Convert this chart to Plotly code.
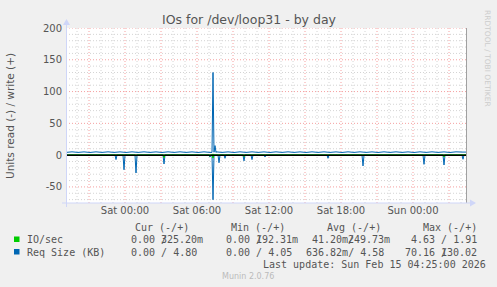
import pandas as pd
import plotly.graph_objects as go

# ---------------- data ----------------
t_start = "2026-02-13 19:05"
t_end = "2026-02-15 04:25"

# Req Size (KB), write (+) : half-hourly baseline values
write_base_vals = [4.3, 5.2, 4.3, 5.1, 4.2, 5.2, 4.3, 5.2, 4.3, 5.1,
                   4.2, 5.2, 4.3, 5.2, 4.3, 5.1, 4.2, 5.2, 4.3, 5.2,
                   4.3, 5.1, 4.2, 5.2, 4.3, 5.2, 4.3, 5.1, 4.2, 5.2,
                   4.3, 5.2, 4.3, 5.1, 4.2, 5.2, 4.3, 5.2, 4.3, 5.1,
                   4.2, 5.2, 4.3, 5.2, 4.3, 5.1, 4.2, 5.2, 4.3, 5.2,
                   4.3, 5.1, 4.2, 5.2, 4.3, 5.2, 4.3, 5.1, 4.2, 5.2,
                   4.3, 5.2, 4.3, 5.1, 4.2, 5.2, 4.8]
# Req Size (KB), write (+) : spike around Sat 07:20
write_spike_times = ["2026-02-14 07:15", "2026-02-14 07:20", "2026-02-14 07:25",
                     "2026-02-14 07:30", "2026-02-14 07:35"]
write_spike_vals = [4.4, 130.02, 4.6, 15.0, 4.4]

# Req Size (KB), read (-) : spikes (time, KB)
read_spike_times = ["2026-02-13 23:15", "2026-02-13 23:55", "2026-02-14 00:55",
                    "2026-02-14 03:15", "2026-02-14 07:05", "2026-02-14 07:20",
                    "2026-02-14 07:50", "2026-02-14 08:20", "2026-02-14 09:55",
                    "2026-02-14 10:35", "2026-02-14 11:40", "2026-02-14 16:55",
                    "2026-02-14 19:50", "2026-02-15 00:55", "2026-02-15 02:35",
                    "2026-02-15 04:10"]
read_spike_vals = [7, 23, 28, 14, 3, 70.16, 12, 5, 9, 7, 3, 5, 17, 14.5, 15.5, 6.5]

# IO/sec, read (-) spikes
io_read_times = ["2026-02-14 00:55", "2026-02-14 03:15", "2026-02-14 07:05",
                 "2026-02-14 07:20", "2026-02-14 09:55", "2026-02-15 02:35"]
io_read_vals = [1.5, 4.0, 2.0, 4.63, 2.5, 3.0]
# IO/sec, write (+)
io_write_times = [t_start, "2026-02-14 07:15", "2026-02-14 07:20",
                  "2026-02-14 07:25", t_end]
io_write_vals = [0.24, 0.24, 1.91, 0.24, 0.33]

# y ticks
y_ticks = [-50, 0, 50, 100, 150, 200]

# legend table
hdrs = ["Cur (-/+)", "Min (-/+)", "Avg (-/+)", "Max (-/+)"]
io_stats = [("0.00", "325.20m"), ("0.00", "192.31m"), ("41.20m", "249.73m"), ("4.63", "1.91")]
kb_stats = [("0.00", "4.80"), ("0.00", "4.05"), ("636.82m", "4.58"), ("70.16", "130.02")]

GREEN = "#00CC00"
BLUE = "#0066B3"
FONT = "#555555"

# ---------------- build series ----------------
five = pd.Timedelta(minutes=5)
base_t = pd.date_range(t_start, periods=len(write_base_vals), freq="30min")
w = pd.Series(write_base_vals, index=base_t)
w = pd.concat([w, pd.Series(write_spike_vals, index=pd.to_datetime(write_spike_times))])
w.loc[pd.Timestamp(t_end)] = 4.8
w = w.sort_index()

def spikes(times, vals):
    xs, ys = [pd.Timestamp(t_start)], [0.0]
    for t, v in zip(pd.to_datetime(times), vals):
        xs += [t - five, t, t + five]
        ys += [0.0, -v, 0.0]
    xs.append(pd.Timestamp(t_end)); ys.append(0.0)
    return xs, ys

rx, ry = spikes(read_spike_times, read_spike_vals)
ix, iy = spikes(io_read_times, io_read_vals)

fig = go.Figure()
fig.add_trace(go.Scatter(x=w.index, y=w.values, mode="lines", line=dict(color=BLUE, width=1)))
fig.add_trace(go.Scatter(x=rx, y=ry, mode="lines", line=dict(color=BLUE, width=1)))
fig.add_trace(go.Scatter(x=pd.to_datetime(io_write_times), y=io_write_vals, mode="lines",
                         line=dict(color=GREEN, width=1)))
fig.add_trace(go.Scatter(x=ix, y=iy, mode="lines", line=dict(color=GREEN, width=1)))

W, H = 497, 287
L, R, T, B = 66, 31, 28, 84
PW, PH = W - L - R, H - T - B

def px(x):
    return (x - L) / PW

def py(y):
    return (T + PH - y) / PH

rng = [t_start, t_end]
YR = [-75.3, 200]
MAJ = "#F5A0A0"
MIN = "#D4D4D4"
DASH = "1px,2px"

hours = pd.date_range("2026-02-13 20:00", "2026-02-15 04:00", freq="1h")
x_major = [h for h in hours if h.hour % 3 == 0]
x_lab = [h for h in hours if h.hour % 6 == 0]

fig.update_layout(
    width=W, height=H, margin=dict(l=L, r=R, t=T, b=B),
    paper_bgcolor="#F0F0F0", plot_bgcolor="#FFFFFF", showlegend=False,
    font=dict(family="DejaVu Sans", size=10, color=FONT),
    xaxis=dict(range=rng, type="date", tickmode="array", tickvals=x_lab,
               ticktext=[h.strftime("%a %H:%M") for h in x_lab],
               showgrid=False, zeroline=False, ticks="", showline=False,
               tickfont=dict(size=10, color=FONT)),
    yaxis=dict(range=YR, tickmode="array",
               tickvals=y_ticks, ticktext=[str(v) for v in y_ticks],
               showgrid=False, zeroline=False,
               ticks="", ticklabelstandoff=3, tickfont=dict(size=10, color=FONT)),
)

shapes = []
# grid (minor first, then major)
for v in range(-70, 201, 10):
    if v % 50:
        shapes.append(dict(type="line", xref="paper", yref="y", x0=0, x1=1, y0=v, y1=v,
                           line=dict(color=MIN, width=1, dash=DASH), layer="below"))
for h in hours:
    if h.hour % 3:
        shapes.append(dict(type="line", xref="x", yref="paper", x0=h, x1=h, y0=0, y1=1,
                           line=dict(color=MIN, width=1, dash=DASH), layer="below"))
for v in y_ticks:
    shapes.append(dict(type="line", xref="paper", yref="y", x0=0, x1=1, y0=v, y1=v,
                       line=dict(color=MAJ, width=1, dash=DASH), layer="below"))
for h in x_major:
    shapes.append(dict(type="line", xref="x", yref="paper", x0=h, x1=h, y0=0, y1=1,
                       line=dict(color=MAJ, width=1, dash=DASH), layer="below"))

AX = "#CFD6F8"
shapes += [
    # zero rule
    dict(type="line", xref="paper", yref="y", x0=0, x1=1, y0=0, y1=0,
         line=dict(color="#000000", width=1.5), layer="above"),
    # right edge line
    dict(type="line", xref="paper", yref="paper", x0=px(466.5), x1=px(466.5),
         y0=py(28), y1=py(203), line=dict(color="#A0A0A0", width=1), layer="above"),
    # axes
    dict(type="line", xref="paper", yref="paper", x0=px(62), x1=px(470),
         y0=py(203), y1=py(203), line=dict(color=AX, width=1)),
    dict(type="line", xref="paper", yref="paper", x0=px(66.5), x1=px(66.5),
         y0=py(207), y1=py(24), line=dict(color=AX, width=1)),
    dict(type="path", xref="paper", yref="paper",
         path=f"M {px(470)},{py(199.5)} L {px(476)},{py(203)} L {px(470)},{py(206.5)} Z",
         fillcolor=AX, line=dict(color=AX, width=0)),
    dict(type="path", xref="paper", yref="paper",
         path=f"M {px(63)},{py(25)} L {px(66.5)},{py(19)} L {px(70)},{py(25)} Z",
         fillcolor=AX, line=dict(color=AX, width=0)),
    # legend squares
    dict(type="rect", xref="paper", yref="paper", x0=px(14), x1=px(19.5),
         y0=py(236.5), y1=py(242), fillcolor=GREEN, line=dict(width=0)),
    dict(type="rect", xref="paper", yref="paper", x0=px(14), x1=px(19.5),
         y0=py(249), y1=py(254.5), fillcolor=BLUE, line=dict(width=0)),
]
fig.update_layout(shapes=shapes)

NB = "\u00a0"
MONO = "DejaVu Sans Mono"

def txt(x, y, s, size=10, color=FONT, family=MONO, anchor="left", angle=0):
    fig.add_annotation(x=px(x), y=py(y), xref="paper", yref="paper", text=s.replace(" ", NB),
                       showarrow=False, xanchor=anchor, yanchor="middle", textangle=angle,
                       font=dict(family=family, size=size, color=color), borderpad=0)

txt(249, 19, "IOs for /dev/loop31 - by day", size=12.5, family="DejaVu Sans",
    anchor="center", color="#555555")
txt(10, 116, "Units read (-) / write (+)", size=10.5, family="DejaVu Sans",
    anchor="center", angle=-90)
txt(487, 58, "RRDTOOL / TOBI OETIKER", size=7.5, family="DejaVu Sans",
    anchor="center", angle=90, color="#CCCCCC")
txt(248, 276, "Munin 2.0.76", size=8, family="DejaVu Sans", anchor="center",
    color="#BBBBBB")

hx = [134, 230, 326, 422]
for h, x in zip(hdrs, hx):
    txt(x, 227.5, h)

txt(26, 239.5, "IO/sec")
txt(26, 252, "Req Size (KB)")

cx = [129.5, 224.5, 305, 404]
cw = 6.02
# row 1 (IO/sec)
y1 = 239.5
txt(cx[0], y1, io_stats[0][0] + " /")
txt(cx[0] + 5 * cw, y1, io_stats[0][1])
txt(cx[1], y1, io_stats[1][0] + " /")
txt(cx[1] + 5 * cw, y1, io_stats[1][1])
txt(cx[2] + cw, y1, io_stats[2][0] + "/")
txt(cx[2] + 7 * cw, y1, io_stats[2][1])
txt(cx[3] + cw, y1, io_stats[3][0] + " / " + io_stats[3][1])
# row 2 (Req Size)
y2 = 252
txt(cx[0], y2, kb_stats[0][0] + " / " + kb_stats[0][1])
txt(cx[1], y2, kb_stats[1][0] + " / " + kb_stats[1][1])
txt(cx[2], y2, kb_stats[2][0] + "/ " + kb_stats[2][1])
txt(cx[3], y2, kb_stats[3][0] + " /")
txt(cx[3] + 6 * cw, y2, kb_stats[3][1])

txt(261.5, 264, "Last update: Sun Feb 15 04:25:00 2026")

fig.write_html("out.html")
